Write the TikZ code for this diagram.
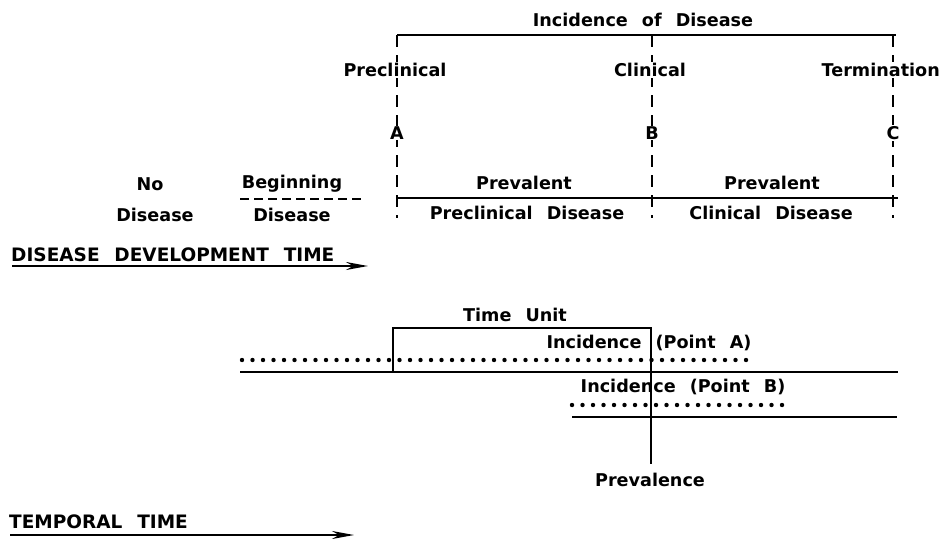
\documentclass[tikz,border=0pt]{standalone}
\usepackage{fontspec}
\setmainfont{DejaVu Sans}
\usetikzlibrary{arrows.meta}
\newcommand{\lbl}{\fontsize{17.6}{21}\bfseries\selectfont\spaceskip=0.8em\relax}
\newcommand{\caplbl}{\fontsize{18.5}{22}\bfseries\selectfont\spaceskip=0.8em\relax}

\tikzset{
  txt/.style={font=\lbl, inner sep=1pt},
  cut/.style={txt, fill=white},
  captxt/.style={font=\caplbl, inner sep=1pt, anchor=west},
  rule/.style={line width=2.4pt},
  dashline/.style={line width=2.4pt, dash pattern=on 12pt off 8pt},
  begdash/.style={line width=2.4pt, dash pattern=on 9pt off 5pt},
  dotline/.style={line width=4.4pt, line cap=round, dash pattern=on 0pt off 10.5pt},
  timearrow/.style={line width=2.4pt, -{Stealth[length=22pt,width=8pt]}}
}

\begin{document}
\begin{tikzpicture}[x=1pt,y=-1pt]
	\useasboundingbox (0,0) rectangle (941,538);
	\coordinate (At) at (397,35);
	\coordinate (Bt) at (652,35);
	\coordinate (Ct) at (893,35);
	\coordinate (Ab) at (397,218);
	\coordinate (Bb) at (652,218);
	\coordinate (Cb) at (893,218);
	\coordinate (topR) at (896,35);
	\coordinate (baseL) at (397,198);
	\coordinate (baseR) at (898,198);
	\draw[dashline] (At) -- (Ab);
	\draw[dashline] (Bt) -- (Bb);
	\draw[dashline] (Ct) -- (Cb);
	\draw[rule] (At) -- (topR);
	\draw[rule] (baseL) -- (baseR);
	\node[txt] (incdis) at (643,20) {Incidence of Disease};
	\node[cut] (precl) at (395,70) {Preclinical};
	\node[cut] (clin) at (650,70) {Clinical};
	\node[cut, anchor=east] (term) at (941,70) {Termination};
	\node[cut] (ptA) at (397,133) {A};
	\node[cut] (ptB) at (652,133) {B};
	\node[cut] (ptC) at (893,133) {C};
	\node[txt] (prev1) at (524,183) {Prevalent};
	\node[txt] (prev2) at (772,183) {Prevalent};
	\node[txt] (precdis) at (527,213) {Preclinical Disease};
	\node[txt] (clindis) at (771,213) {Clinical Disease};
	\node[txt] (nodis1) at (150,184) {No};
	\node[txt] (nodis2) at (155,215) {Disease};
	\node[txt] (begdis1) at (292,184) {Beginning};
	\node[txt] (begdis2) at (292,215) {Disease};
	\coordinate (begL) at (240,199);
	\coordinate (begR) at (363,199);
	\draw[begdash] (begL) -- (begR);
	\node[captxt] (ddt) at (10,255) {DISEASE DEVELOPMENT TIME};
	\coordinate (ddtL) at (12,266);
	\coordinate (ddtR) at (368,266);
	\draw[timearrow] (ddtL) -- (ddtR);

	\coordinate (boxL) at (393,372);
	\coordinate (boxTL) at (393,328);
	\coordinate (boxTR) at (651,328);
	\coordinate (prevB) at (651,464);
	\coordinate (line1L) at (240,372);
	\coordinate (line1R) at (898,372);
	\coordinate (dot1L) at (242,360);
	\coordinate (dot1R) at (752,360);
	\coordinate (line2L) at (572,417);
	\coordinate (line2R) at (897,417);
	\coordinate (dot2L) at (572,405);
	\coordinate (dot2R) at (783,405);
	\draw[dotline] (dot1L) -- (dot1R);
	\draw[dotline] (dot2L) -- (dot2R);
	\draw[rule] (line1L) -- (line1R);
	\draw[rule] (line2L) -- (line2R);
	\draw[rule] (boxL) -- (boxTL) -- (boxTR) -- (prevB);
	\node[txt] (tunit) at (515,315) {Time Unit};
	\node[txt] (incA) at (649,343) {Incidence (Point A)};
	\node[txt] (incB) at (683,387) {Incidence (Point B)};
	\node[txt] (prevl) at (650,480) {Prevalence};
	\node[captxt] (tt) at (8,522) {TEMPORAL TIME};
	\coordinate (ttL) at (10,535);
	\coordinate (ttR) at (354,535);
	\draw[timearrow] (ttL) -- (ttR);
\end{tikzpicture}
\end{document}
